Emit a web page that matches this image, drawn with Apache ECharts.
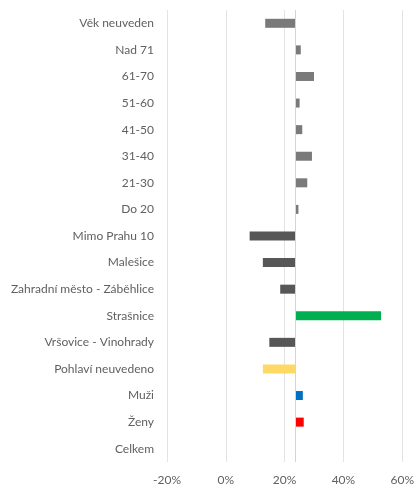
<!DOCTYPE html>
<html>
<head>
<meta charset="utf-8">
<script src="https://cdn.jsdelivr.net/npm/echarts@6/dist/echarts.min.js"></script>
<style>
  html, body { margin: 0; padding: 0; background: #fff; }
  #chart { width: 417px; height: 487px; }
</style>
</head>
<body>
<div id="chart"></div>
<script>
  "use strict";

  // categories top to bottom
  const categories = [
    "Věk neuveden", "Nad 71", "61-70", "51-60", "41-50", "31-40", "21-30", "Do 20",
    "Mimo Prahu 10", "Malešice", "Zahradní město - Záběhlice", "Strašnice", "Vršovice - Vinohrady",
    "Pohlaví neuvedeno", "Muži", "Ženy", "Celkem"
  ];
  // share in % for each category
  const values = [13.4, 25.5, 30.0, 25.1, 26.0, 29.3, 27.7, 24.7, 8.1, 12.6, 18.5, 52.8, 14.8, 12.6, 26.2, 26.5, 23.7];
  // total, the bars hang from this
  const celkem = 23.7;
  const xTicks = [-20, 0, 20, 40, 60];

  // ---- colours per category (style only) ----
  const COLORS = {
    "Strašnice": "#00b050",
    "Pohlaví neuvedeno": "#ffd966",
    "Muži": "#0070c0",
    "Ženy": "#ff0000"
  };
  const AGE = ["Věk neuveden", "Nad 71", "61-70", "51-60", "41-50", "31-40", "21-30", "Do 20"];
  function colorFor(cat) {
    if (COLORS[cat]) return COLORS[cat];
    return AGE.includes(cat) ? "#7a7a7a" : "#575757";
  }

  const base = values.map(v => Math.min(v, celkem));
  const delta = values.map((v, i) => ({
    value: Math.abs(v - celkem),
    itemStyle: { color: colorFor(categories[i]) }
  }));

  const chart = echarts.init(document.getElementById("chart"), null, { renderer: "canvas" });
  chart.setOption({
    animation: false,
    textStyle: { fontFamily: "Lato, 'Open Sans', sans-serif" },
    grid: { left: 167, right: 13, top: 10, bottom: 25, containLabel: false },
    xAxis: {
      type: "value",
      min: xTicks[0], max: xTicks[xTicks.length - 1], interval: 20,
      axisLine: { show: false },
      axisTick: { show: false },
      axisLabel: { color: "#606060", fontSize: 12, margin: 12, formatter: v => v + "%" },
      splitLine: { lineStyle: { color: "#e3e3e3", width: 1 } }
    },
    yAxis: {
      type: "category",
      inverse: true,
      data: categories,
      axisLine: { show: false },
      axisTick: { show: false },
      axisLabel: { color: "#606060", fontSize: 12, margin: 13 }
    },
    series: [
      {
        type: "bar", stack: "s", data: base, barWidth: 9,
        itemStyle: { color: "transparent" }, silent: true,
        markLine: {
          symbol: "none", silent: true, label: { show: false },
          lineStyle: { color: "#d4d4d4", type: "solid", width: 1 },
          data: [{ xAxis: celkem }]
        }
      },
      { type: "bar", stack: "s", data: delta, barWidth: 9 }
    ]
  });
</script>
</body>
</html>
